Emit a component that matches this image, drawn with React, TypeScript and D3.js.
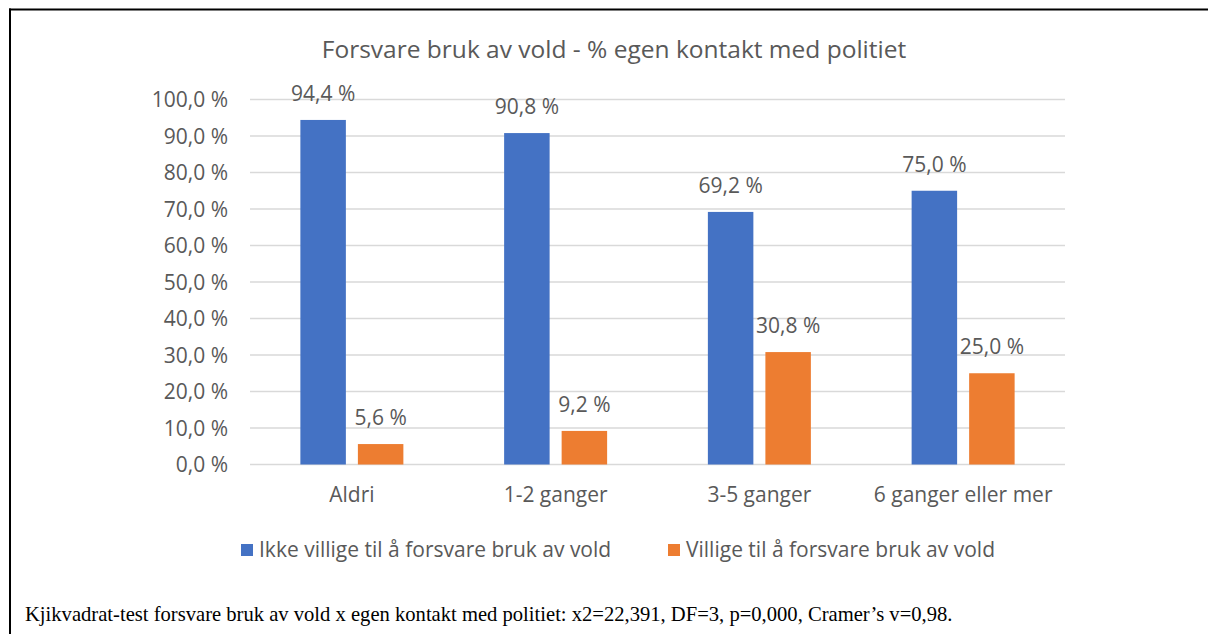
import React from "react";
import * as d3 from "d3";

const categories = ["Aldri", "1-2 ganger", "3-5 ganger", "6 ganger eller mer"];
const seriesNames = ["Ikke villige til å forsvare bruk av vold", "Villige til å forsvare bruk av vold"];
const notWilling = [94.4, 90.8, 69.2, 75.0];
const willing = [5.6, 9.2, 30.8, 25.0];
const yTicks = [0, 10, 20, 30, 40, 50, 60, 70, 80, 90, 100];
const title = "Forsvare bruk av vold - % egen kontakt med politiet";
const footnote = "Kjikvadrat-test forsvare bruk av vold x egen kontakt med politiet: x2=22,391, DF=3, p=0,000, Cramer’s v=0,98.";

const colors = ["#4472C4", "#ED7D31"];
const textColor = "#595959";
const font = "'Open Sans', sans-serif";

const fmt = (v: number) => v.toFixed(1).replace(".", ",") + " %";

export default function App() {
  const W = 1208, H = 634;
  const plot = { left: 250, right: 1065, top: 99.5, bottom: 464.5 };
  const x = d3.scaleBand<string>().domain(categories).range([plot.left, plot.right]).paddingInner(0).paddingOuter(0);
  const groupW = 103;
  const xs = d3.scaleBand<number>().domain([0, 1]).range([-groupW / 2, groupW / 2]).paddingInner(0.209).paddingOuter(0);
  const y = d3.scaleLinear().domain([0, 100]).range([plot.bottom, plot.top]);
  const series = [notWilling, willing];

  const legendItems = [
    { sq: 241, tx: 259 },
    { sq: 668, tx: 686 },
  ];

  return (
    <svg width={W} height={H} style={{ position: "absolute", left: 0, top: 0, background: "#fff" }}>
      <rect x={0} y={0} width={W} height={H} fill="#fff" />
      {/* border */}
      <line x1={9} x2={W} y1={9.5} y2={9.5} stroke="#000" strokeWidth={2} />
      <line x1={10} x2={10} y1={8.5} y2={H} stroke="#000" strokeWidth={2} />
      {/* title */}
      <text x={614} y={58} textAnchor="middle" fontFamily={font} fontSize={24.5} fill={textColor}>{title}</text>
      {/* gridlines & y ticks */}
      {yTicks.map((t) => (
        <g key={t}>
          <line x1={plot.left} x2={plot.right} y1={y(t)} y2={y(t)} stroke="#D9D9D9" strokeWidth={1.3} />
          <text x={228} y={y(t)} dy="0.36em" textAnchor="end" fontFamily={font} fontSize={21} fill={textColor}>{fmt(t)}</text>
        </g>
      ))}
      {/* bars */}
      {series.map((vals, si) =>
        vals.map((v, ci) => {
          const cx = (x(categories[ci]) as number) + x.bandwidth() / 2;
          const bx = cx + (xs(si) as number);
          return (
            <g key={`${si}-${ci}`}>
              <rect x={bx} y={y(v)} width={xs.bandwidth()} height={y(0) - y(v)} fill={colors[si]} />
              <text x={bx + xs.bandwidth() / 2} y={y(v) - 19} textAnchor="middle" fontFamily={font} fontSize={21} fill={textColor}>{fmt(v)}</text>
            </g>
          );
        })
      )}
      {/* category labels */}
      {categories.map((c) => (
        <text key={c} x={(x(c) as number) + x.bandwidth() / 2} y={502} textAnchor="middle" fontFamily={font} fontSize={21} fill={textColor}>{c}</text>
      ))}
      {/* legend */}
      {seriesNames.map((n, i) => (
        <g key={n}>
          <rect x={legendItems[i].sq} y={544} width={12} height={12} fill={colors[i]} />
          <text x={legendItems[i].tx} y={557} fontFamily={font} fontSize={21} fill={textColor}>{n}</text>
        </g>
      ))}
      {/* footnote */}
      <text x={25} y={621} fontFamily="'Liberation Serif', serif" fontSize={20.6} fill="#000">{footnote}</text>
    </svg>
  );
}
